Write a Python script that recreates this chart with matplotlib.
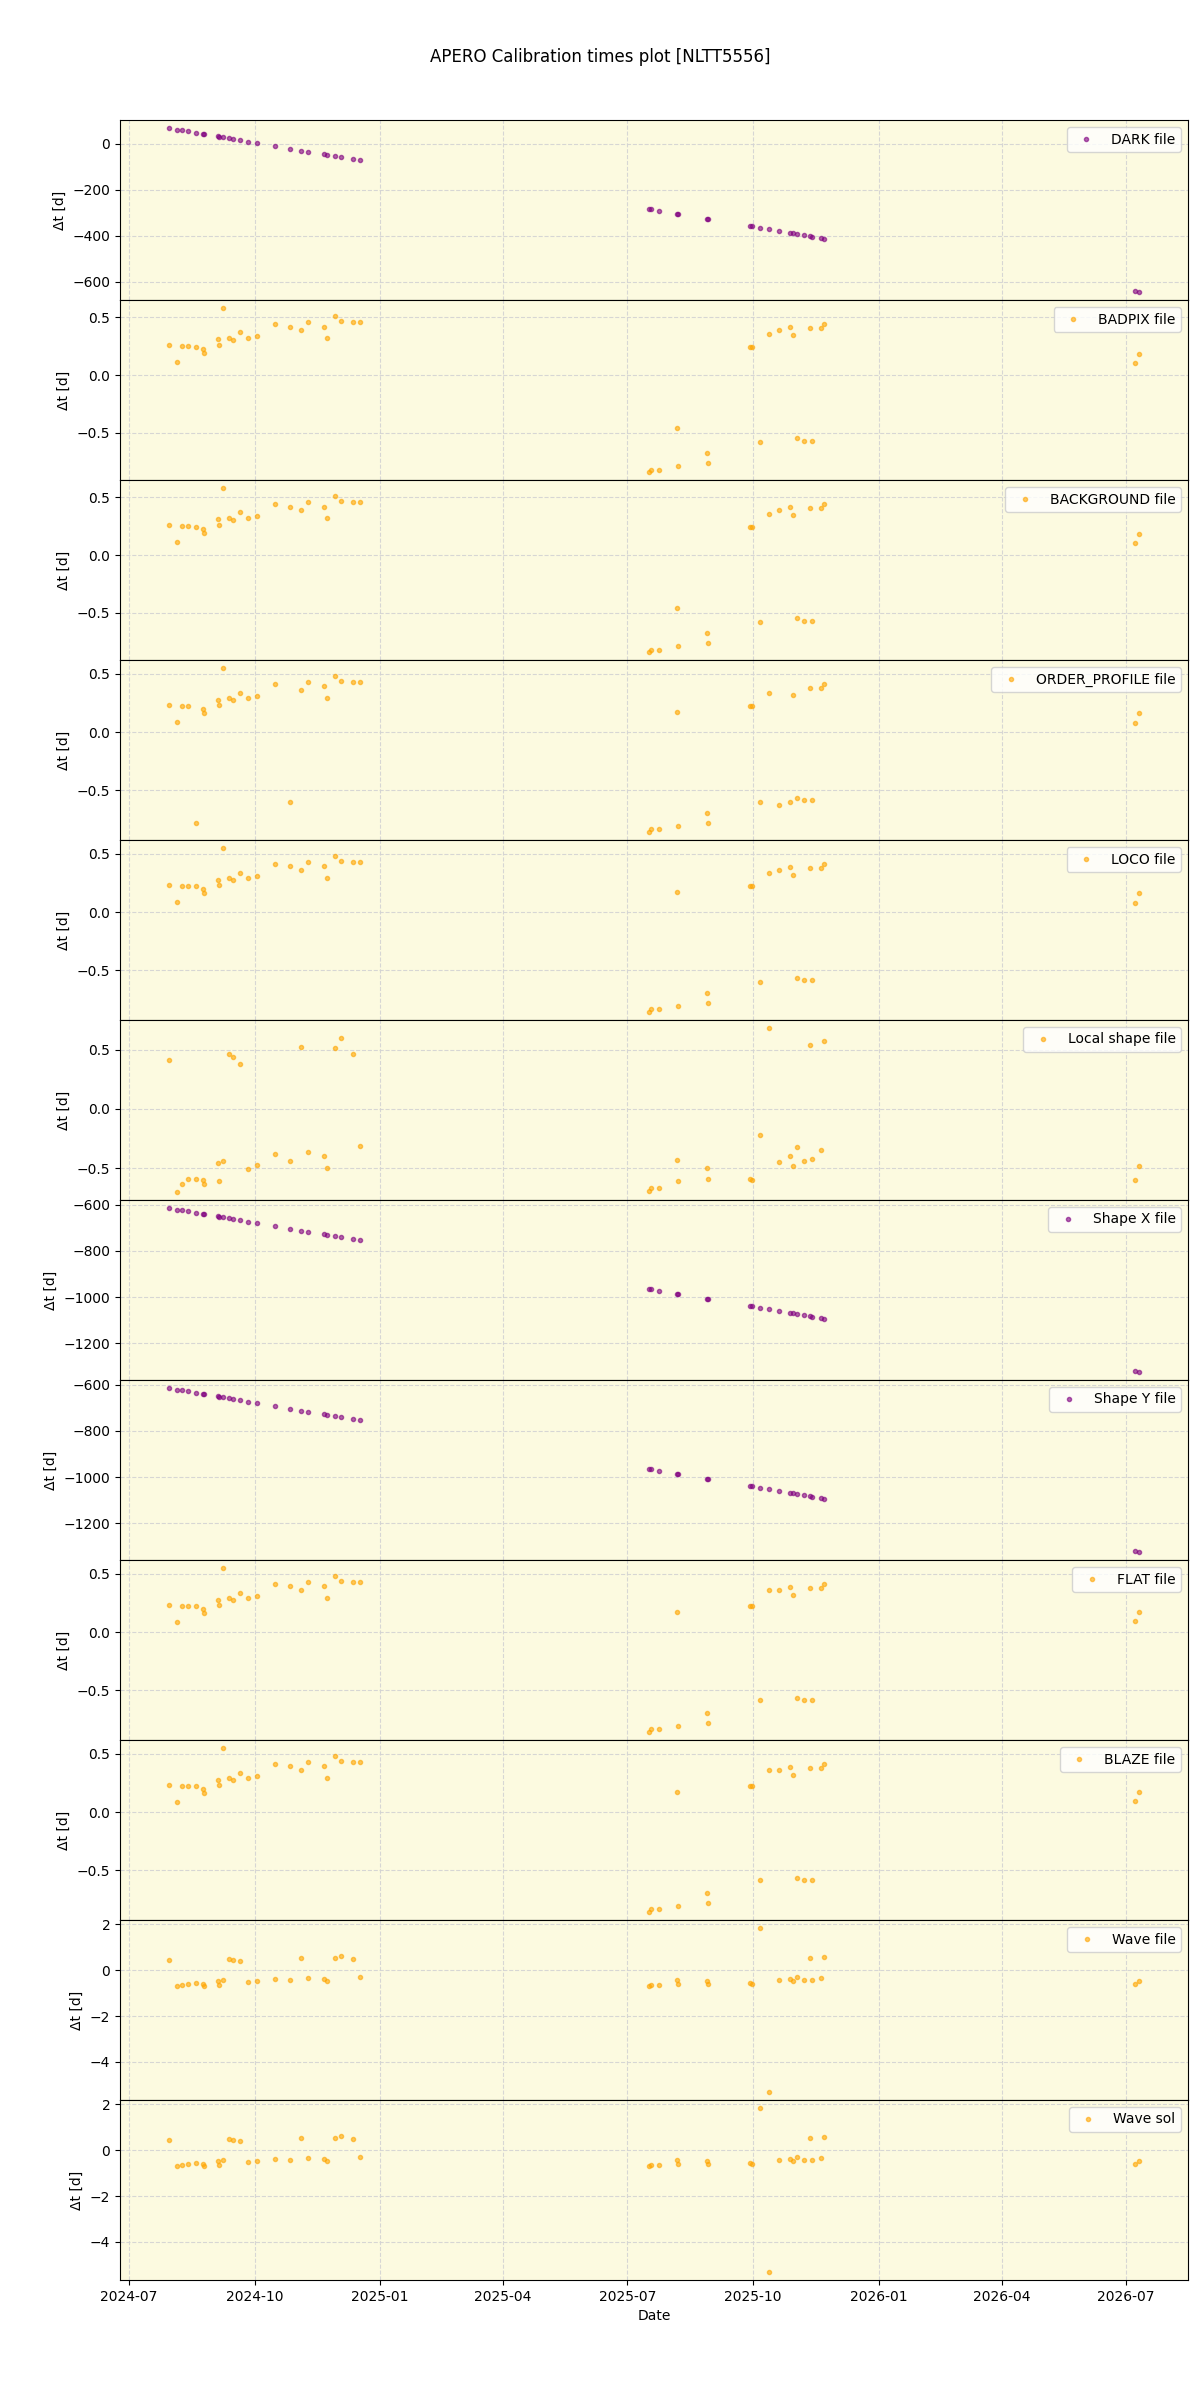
import matplotlib
matplotlib.use("Agg")
import matplotlib.pyplot as plt
import pandas as pd

dates = ['2024-07-30', '2024-08-05', '2024-08-09', '2024-08-13', '2024-08-19', '2024-08-24',
         '2024-08-25', '2024-09-04', '2024-09-05', '2024-09-08', '2024-09-12', '2024-09-15',
         '2024-09-20', '2024-09-26', '2024-10-03', '2024-10-16', '2024-10-27', '2024-11-04',
         '2024-11-09', '2024-11-21', '2024-11-23', '2024-11-29', '2024-12-03', '2024-12-12',
         '2024-12-17',
         '2025-07-17', '2025-07-18', '2025-07-24', '2025-08-06', '2025-08-07', '2025-08-28',
         '2025-08-29', '2025-09-29', '2025-09-30', '2025-10-06', '2025-10-13', '2025-10-20',
         '2025-10-28', '2025-10-30', '2025-11-02', '2025-11-07', '2025-11-12', '2025-11-13',
         '2025-11-20', '2025-11-22',
         '2026-07-08', '2026-07-11']

dark = [68, 62, 58, 54, 48, 43, 42, 32, 31, 28, 24, 21, 16, 10, 3, -10, -21, -29, -34, -46,
        -48, -55, -58, -67, -72,
        -284, -285, -291, -304, -305, -326, -327, -358, -359, -365, -372, -379, -387, -389,
        -392, -397, -402, -403, -410, -412,
        -640, -643]

badpix = [0.26, 0.11, 0.25, 0.25, 0.24, 0.23, 0.19, 0.31, 0.26, 0.58, 0.32, 0.30, 0.37, 0.32,
          0.34, 0.44, 0.42, 0.39, 0.46, 0.42, 0.32, 0.51, 0.47, 0.46, 0.46,
          -0.84, -0.82, -0.82, -0.46, -0.79, -0.68, -0.76, 0.24, 0.24, -0.58, 0.36, 0.39,
          0.42, 0.35, -0.55, -0.57, 0.41, -0.57, 0.41, 0.44,
          0.10, 0.18]

background = list(badpix)

order_profile = [0.23, 0.09, 0.22, 0.22, -0.78, 0.20, 0.16, 0.28, 0.23, 0.55, 0.29, 0.28, 0.34,
                 0.29, 0.31, 0.41, -0.60, 0.36, 0.43, 0.40, 0.29, 0.48, 0.44, 0.43, 0.43,
                 -0.86, -0.84, -0.84, 0.17, -0.81, -0.70, -0.78, 0.22, 0.22, -0.60, 0.34, -0.63,
                 -0.60, 0.32, -0.57, -0.59, 0.38, -0.59, 0.38, 0.41,
                 0.08, 0.16]

loco = [0.23, 0.09, 0.22, 0.22, 0.22, 0.20, 0.16, 0.28, 0.23, 0.55, 0.29, 0.28, 0.34, 0.29,
        0.31, 0.41, 0.40, 0.36, 0.43, 0.40, 0.29, 0.48, 0.44, 0.43, 0.43,
        -0.86, -0.84, -0.84, 0.17, -0.81, -0.70, -0.78, 0.22, 0.22, -0.60, 0.34, 0.36, 0.39,
        0.32, -0.57, -0.59, 0.38, -0.59, 0.38, 0.41,
        0.08, 0.16]

local_shape = [0.41, -0.70, -0.63, -0.59, -0.59, -0.60, -0.63, -0.46, -0.61, -0.44, 0.46, 0.44,
               0.38, -0.51, -0.47, -0.38, -0.44, 0.52, -0.36, -0.40, -0.50, 0.51, 0.60, 0.46,
               -0.31,
               -0.69, -0.67, -0.67, -0.43, -0.61, -0.50, -0.59, -0.59, -0.60, -0.22, 0.68,
               -0.45, -0.40, -0.48, -0.32, -0.44, 0.54, -0.42, -0.35, 0.57,
               -0.60, -0.48]

shape_x = [-614, -620, -624, -628, -634, -639, -640, -650, -651, -654, -658, -661, -666, -672,
           -679, -692, -703, -711, -716, -728, -730, -737, -740, -749, -754,
           -966, -967, -973, -986, -987, -1008, -1009, -1040, -1041, -1047, -1054, -1061,
           -1069, -1071, -1074, -1079, -1084, -1085, -1092, -1094,
           -1322, -1325]

shape_y = list(shape_x)

flat = [0.23, 0.09, 0.22, 0.22, 0.22, 0.20, 0.16, 0.28, 0.23, 0.55, 0.29, 0.28, 0.34, 0.29,
        0.31, 0.41, 0.40, 0.36, 0.43, 0.40, 0.29, 0.48, 0.44, 0.43, 0.43,
        -0.86, -0.84, -0.84, 0.17, -0.81, -0.70, -0.78, 0.22, 0.22, -0.59, 0.36, 0.36, 0.39,
        0.32, -0.57, -0.59, 0.38, -0.59, 0.38, 0.41,
        0.095, 0.17]

blaze = list(flat)

wave_file = [0.43, -0.70, -0.65, -0.61, -0.57, -0.61, -0.67, -0.48, -0.64, -0.43, 0.49, 0.43,
             0.39, -0.52, -0.48, -0.39, -0.43, 0.52, -0.35, -0.39, -0.48, 0.52, 0.61, 0.48,
             -0.30,
             -0.70, -0.65, -0.65, -0.43, -0.61, -0.48, -0.61, -0.57, -0.61, 1.83, -5.30,
             -0.43, -0.39, -0.48, -0.30, -0.43, 0.52, -0.43, -0.35, 0.57,
             -0.61, -0.48]

wave_sol = list(wave_file)

labels = ['DARK file', 'BADPIX file', 'BACKGROUND file', 'ORDER_PROFILE file', 'LOCO file',
          'Local shape file', 'Shape X file', 'Shape Y file', 'FLAT file', 'BLAZE file',
          'Wave file', 'Wave sol']
series = [dark, badpix, background, order_profile, loco, local_shape, shape_x, shape_y,
          flat, blaze, wave_file, wave_sol]
colors = ['purple', 'orange', 'orange', 'orange', 'orange', 'orange', 'purple', 'purple',
          'orange', 'orange', 'orange', 'orange']

x = pd.to_datetime(dates)

fig, axes = plt.subplots(12, 1, sharex=True, figsize=(12, 24), dpi=100)
fig.subplots_adjust(left=0.1, right=0.99, top=0.95, bottom=0.05, hspace=0)
fig.suptitle('APERO Calibration times plot [NLTT5556]')

for ax, y, lab, col in zip(axes, series, labels, colors):
    ax.set_facecolor('#fcfae0')
    ax.plot(x, y, '.', color=col, alpha=0.6, label=lab)
    ax.grid(True, linestyle='--', color='lightgray', alpha=0.9)
    ax.set_ylabel('Δt [d]')
    ax.legend(loc='upper right')

axes[-1].set_xlabel('Date')
fig.savefig('out.png')
